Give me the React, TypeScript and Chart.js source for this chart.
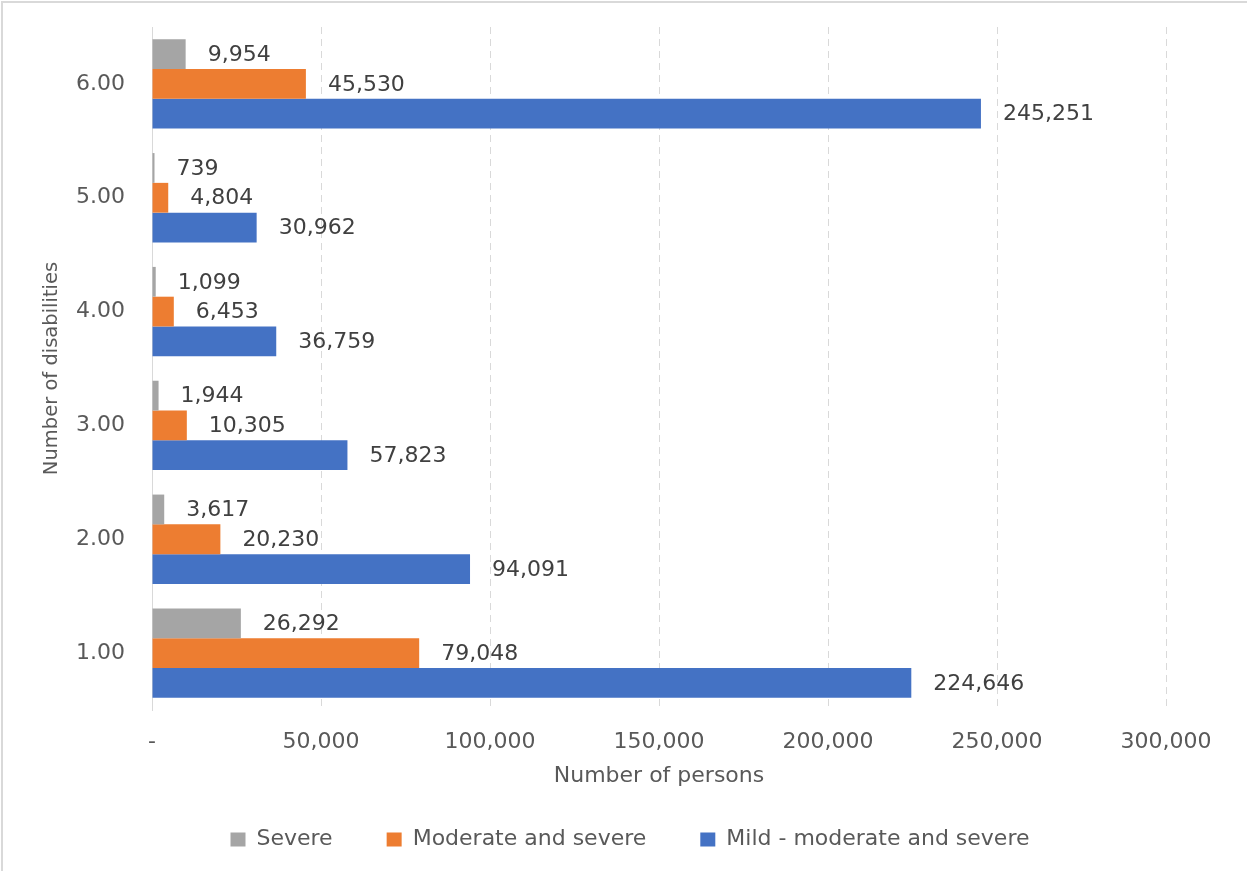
import React, { useEffect, useRef } from 'react';
import { Chart, registerables } from 'chart.js';

Chart.register(...registerables);

// ---- data (top-to-bottom order as in the chart) ----
const categories = ['6.00', '5.00', '4.00', '3.00', '2.00', '1.00'];
const severe = [9954, 739, 1099, 1944, 3617, 26292];
const moderateAndSevere = [45530, 4804, 6453, 10305, 20230, 79048];
const mildModerateAndSevere = [245251, 30962, 36759, 57823, 94091, 224646];
const seriesNames = ['Severe', 'Moderate and severe', 'Mild - moderate and severe'];
const seriesColors = ['#A5A5A5', '#ED7D31', '#4472C4'];
const xAxisTitle = 'Number of persons';
const yAxisTitle = 'Number of disabilities';
const xMin = 0;
const xMax = 300000;
const xStep = 50000;

const FAMILY = "'DejaVu Sans', sans-serif";
const AXIS_TEXT = '#595959';
const LABEL_TEXT = '#404040';
const GRID = '#d9d9d9';

const fmt = (v: number) => (v === 0 ? '-' : v.toLocaleString('en-US'));

const dataLabelPlugin = {
  id: 'dataLabels',
  afterDatasetsDraw(chart: any) {
    const ctx = chart.ctx;
    ctx.save();
    ctx.font = `22px ${FAMILY}`;
    ctx.fillStyle = LABEL_TEXT;
    ctx.textAlign = 'left';
    ctx.textBaseline = 'middle';
    chart.data.datasets.forEach((ds: any, di: number) => {
      const meta = chart.getDatasetMeta(di);
      meta.data.forEach((el: any, i: number) => {
        const v = ds.data[i] as number;
        ctx.fillText(v.toLocaleString('en-US'), el.x + 22, el.y + 1);
      });
    });
    ctx.restore();
  },
};

const framePlugin = {
  id: 'frame',
  beforeDraw(chart: any) {
    const ctx = chart.ctx;
    ctx.save();
    ctx.fillStyle = '#ffffff';
    ctx.fillRect(0, 0, chart.width, chart.height);
    ctx.strokeStyle = GRID;
    ctx.lineWidth = 2;
    ctx.beginPath();
    ctx.moveTo(2, chart.height);
    ctx.lineTo(2, 2);
    ctx.lineTo(chart.width, 2);
    ctx.stroke();
    ctx.restore();
  },
};

export default function App() {
  const canvasRef = useRef<HTMLCanvasElement | null>(null);

  useEffect(() => {
    const canvas = canvasRef.current;
    if (!canvas) return;
    const datasetValues = [severe, moderateAndSevere, mildModerateAndSevere];
    const chart = new Chart(canvas, {
      type: 'bar',
      data: {
        labels: categories,
        datasets: datasetValues.map((vals, i) => ({
          label: seriesNames[i],
          data: vals,
          backgroundColor: seriesColors[i],
          borderWidth: 0,
          categoryPercentage: 0.785,
          barPercentage: 1.0,
        })),
      },
      options: {
        indexAxis: 'y',
        animation: false,
        responsive: false,
        devicePixelRatio: 1,
        layout: { padding: { top: 27, left: 13, right: 0, bottom: 10.5 } },
        scales: {
          x: {
            type: 'linear',
            min: xMin,
            max: xMax,
            ticks: {
              stepSize: xStep,
              callback: (v: any) => fmt(Number(v)),
              font: { family: FAMILY, size: 22 },
              color: AXIS_TEXT,
              padding: 19,
              maxRotation: 0,
            },
            grid: { color: GRID, lineWidth: 1, drawTicks: false },
            border: { display: false, dash: [7, 5] },
            title: {
              display: true,
              text: xAxisTitle,
              color: AXIS_TEXT,
              font: { family: FAMILY, size: 22 },
              padding: { top: 0, bottom: -15.2 },
            },
            afterFit: (s: any) => {
              s.height = 64.5;
              s.paddingRight = 81;
            },
          },
          y: {
            type: 'category',
            ticks: {
              font: { family: FAMILY, size: 22 },
              color: AXIS_TEXT,
              padding: 27,
            },
            grid: { display: false, drawTicks: false },
            border: { display: true, color: GRID, width: 1 },
            title: {
              display: true,
              text: yAxisTitle,
              color: AXIS_TEXT,
              font: { family: FAMILY, size: 19.5 },
              padding: { top: 27.3, bottom: 0 },
            },
            afterFit: (s: any) => {
              s.width = 139;
              s.paddingTop = 0;
              s.paddingBottom = 0;
            },
          },
        },
        plugins: {
          legend: {
            position: 'bottom',
            labels: {
              boxWidth: 15,
              boxHeight: 14,
              padding: 54,
              color: AXIS_TEXT,
              font: { family: FAMILY, size: 22 },
            },
          },
          tooltip: { enabled: false },
        },
      } as any,
      plugins: [framePlugin, dataLabelPlugin],
    });
    return () => chart.destroy();
  }, []);

  return (
    <div style={{ position: 'absolute', left: 0, top: 0, width: 1247, height: 871 }}>
      <canvas ref={canvasRef} width={1247} height={871} style={{ display: 'block' }} />
    </div>
  );
}
